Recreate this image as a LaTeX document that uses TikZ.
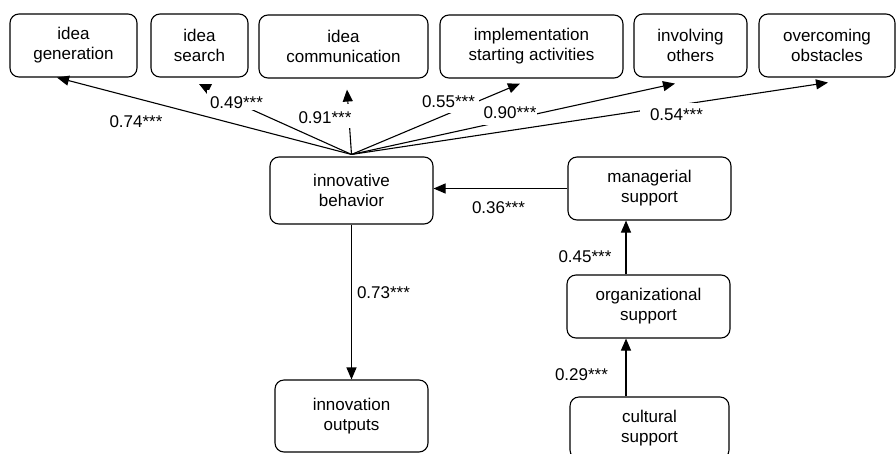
\documentclass[tikz,border=0pt]{standalone}
\usepackage{fontspec}
\setmainfont{Liberation Sans}
\usetikzlibrary{arrows.meta,calc}
\begin{document}
\begin{tikzpicture}[x=1pt,y=-1pt,
  box/.style={draw, rounded corners=9pt, line width=1.1pt, align=center, inner sep=0pt,
    font=\fontsize{17}{20}\selectfont},
  wire/.style={line width=1.1pt},
  conn/.style={wire, -{Triangle[length=12pt,width=10pt]}},
  lbl/.style={anchor=base, fill=white, inner sep=1pt, text height=12.5pt, text depth=0.5pt,
    font=\fontsize{17}{20}\selectfont}
]
\useasboundingbox (0,0) rectangle (896,453);

% top row
\node[box, minimum width=127pt, minimum height=63pt] (ig)  at (73.5,45.5)  {idea\\generation};
\node[box, minimum width=97pt,  minimum height=63pt] (is)  at (199.5,45.5) {idea\\search};
\node[box, minimum width=169pt, minimum height=63pt] (ic)  at (343.5,46.5) {idea\\communication};
\node[box, minimum width=183pt, minimum height=63pt] (ia)  at (531.5,46.5) {implementation\\starting activities};
\node[box, minimum width=113pt, minimum height=63pt] (inv) at (690.5,45.5) {involving\\others};
\node[box, minimum width=136pt, minimum height=63pt] (oo)  at (827,45.5)   {overcoming\\obstacles};

% middle and bottom
\node[box, minimum width=163pt, minimum height=67pt] (ib)  at (351.5,190.5) {innovative\\behavior};
\node[box, minimum width=163pt, minimum height=63pt] (mg)  at (649.5,188.5) {managerial\\support};
\node[box, minimum width=163pt, minimum height=63pt] (os)  at (648.5,306.5) {organizational\\support};
\node[box, minimum width=159pt, minimum height=62pt] (cs)  at (649.5,428)   {cultural\\support};
\node[box, minimum width=153pt, minimum height=72pt] (out) at (351.5,416)   {innovation\\outputs};

% fan of connectors
\coordinate (O) at ([yshift=2pt]ib.north);
\coordinate (sT) at (206,89);
\draw[conn] (O) -- ([xshift=-16.5pt]ig.south);
\draw[wire] (O) -- (sT);
\fill (sT) ++(-7,-5) -- ++(13,0) -- ++(-5,10) -- cycle;
\draw[conn] (O) -- ([shift={(3.5,11)}]ic.south);
\draw[conn] (O) -- ([shift={(-11.5,5)}]ia.south);
\draw[conn] (O) -- ([shift={(-15.5,6)}]inv.south);
\draw[conn] (O) -- ([shift={(1,5)}]oo.south);

% lower connectors
\draw[conn] (mg.west) -- (ib.east |- mg.west);
\draw[conn] (ib.south) -- (out.north);
\coordinate (a1) at ([xshift=-22.5pt]os.north);
\draw[conn] (a1) -- (a1 |- mg.south);
\coordinate (a2) at ([xshift=-23.5pt]cs.north);
\draw[conn] (a2) -- (a2 |- os.south);

% labels
\node[lbl] (l1) at (136,127) {0.74***};
\node[lbl, inner xsep=3pt, text height=17pt] (l2) at (236.5,108.3) {0.49***};
\node[lbl, text height=18pt, text depth=4pt] (l3) at (325,123) {0.91***};
\node[lbl, inner xsep=4pt, text depth=5pt] (l4) at (448.5,107) {0.55***};
\node[lbl, text depth=6pt] (l5) at (510,118) {0.90***};
\node[lbl, inner xsep=10pt, text height=17pt] (l6) at (676.5,120.7) {0.54***};
\node[lbl] (l7) at (498.5,213) {0.36***};
\node[lbl] (l8) at (383.5,298) {0.73***};
\node[lbl] (l9) at (585,262.7) {0.45***};
\node[lbl] (l10) at (581.5,380.7) {0.29***};
\end{tikzpicture}
\end{document}
